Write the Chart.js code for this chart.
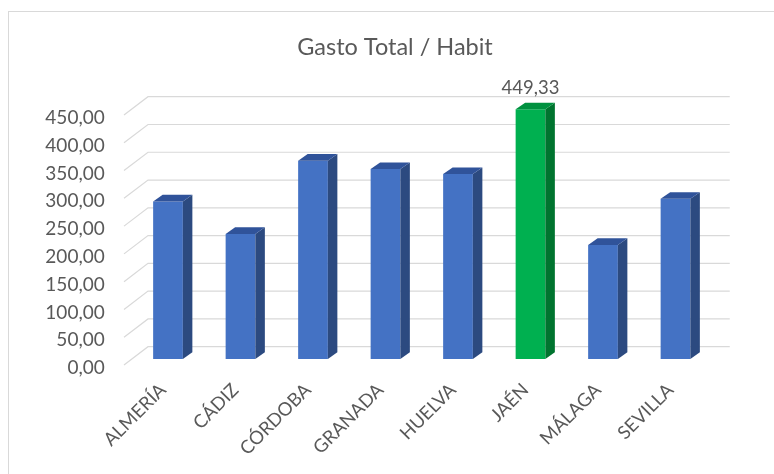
<!DOCTYPE html>
<html>
<head>
<meta charset="utf-8">
<script src="https://cdn.jsdelivr.net/npm/chart.js@4.4.1/dist/chart.umd.min.js"></script>
<style>
    html, body { margin: 0; padding: 0; background: #fff; }
</style>
</head>
<body>
<canvas id="gastoChart" width="774" height="474"></canvas>
<script>
const provincias = ['ALMERÍA', 'CÁDIZ', 'CÓRDOBA', 'GRANADA', 'HUELVA', 'JAÉN', 'MÁLAGA', 'SEVILLA'];
const gastoHabitante = [283.4, 225.2, 357.0, 341.8, 332.8, 449.33, 205.4, 288.3];
const yTicks = [0, 50, 100, 150, 200, 250, 300, 350, 400, 450];
const destacada = 'JAÉN';
const titulo = 'Gasto Total / Habit';

const textColor = '#595959';
const gridColor = '#d9d9d9';
const fontFamily = 'Lato, "Open Sans", sans-serif';

// front / side / top colours of each bar
const frontColors = provincias.map(p => p === destacada ? '#00b050' : '#4472c4');
const sideColors = provincias.map(p => p === destacada ? '#00742f' : '#2c4a80');
const topColors = provincias.map(p => p === destacada ? '#00913f' : '#30539a');

const fmt = v => v.toFixed(2).replace('.', ',');

// bar depth and wall offsets (pixels)
const depth = { dx: 9.5, dy: -6.7 };
const wall = { frontDx: -7.75, frontDy: 6, backDx: 16.25, backDy: -12.3, rightDx: 18 };

const frame3d = {
    id: 'frame3d',
    beforeDraw(chart) {
        const ctx = chart.ctx;
        ctx.save();
        ctx.strokeStyle = gridColor;
        ctx.lineWidth = 1;
        ctx.strokeRect(8.5, 11.5, 800, 500);
        ctx.restore();
    },
    beforeDatasetsDraw(chart) {
        const ctx = chart.ctx;
        const y = chart.scales.y;
        const area = chart.chartArea;
        ctx.save();
        ctx.strokeStyle = gridColor;
        ctx.lineWidth = 1.2;
        yTicks.forEach(v => {
            const py = y.getPixelForValue(v);
            ctx.beginPath();
            ctx.moveTo(area.left + wall.frontDx, py + wall.frontDy);
            ctx.lineTo(area.left + wall.backDx, py + wall.backDy);
            ctx.lineTo(area.right + wall.rightDx, py + wall.backDy);
            ctx.stroke();
        });
        ctx.restore();
    },
    afterDatasetsDraw(chart) {
        const ctx = chart.ctx;
        const meta = chart.getDatasetMeta(0);
        ctx.save();
        meta.data.forEach((bar, i) => {
            const half = bar.width / 2;
            const l = bar.x - half, r = bar.x + half;
            // side face
            ctx.fillStyle = sideColors[i];
            ctx.beginPath();
            ctx.moveTo(r, bar.y);
            ctx.lineTo(r + depth.dx, bar.y + depth.dy);
            ctx.lineTo(r + depth.dx, bar.base + depth.dy);
            ctx.lineTo(r, bar.base);
            ctx.closePath();
            ctx.fill();
            // top face
            ctx.fillStyle = topColors[i];
            ctx.beginPath();
            ctx.moveTo(l, bar.y);
            ctx.lineTo(l + depth.dx, bar.y + depth.dy);
            ctx.lineTo(r + depth.dx, bar.y + depth.dy);
            ctx.lineTo(r, bar.y);
            ctx.closePath();
            ctx.fill();

            if (provincias[i] === destacada) {
                ctx.fillStyle = textColor;
                ctx.font = '18.5px ' + fontFamily;
                ctx.textAlign = 'center';
                ctx.textBaseline = 'middle';
                ctx.fillText(fmt(gastoHabitante[i]), bar.x, bar.y - 21.5);
            }
        });
        ctx.restore();
    },
    afterDraw(chart) {
        const ctx = chart.ctx;
        ctx.save();
        ctx.fillStyle = textColor;
        ctx.font = '23.5px ' + fontFamily;
        ctx.textAlign = 'center';
        ctx.textBaseline = 'middle';
        ctx.fillText(titulo, 395, 47);
        ctx.restore();
    }
};

new Chart(document.getElementById('gastoChart'), {
    type: 'bar',
    data: {
        labels: provincias,
        datasets: [{
            label: titulo,
            data: gastoHabitante,
            backgroundColor: frontColors,
            borderWidth: 0,
            barPercentage: 0.41,
            categoryPercentage: 1
        }]
    },
    options: {
        responsive: false,
        animation: false,
        layout: { padding: { left: 16, top: 109, right: 62.25, bottom: 0 } },
        plugins: {
            legend: { display: false },
            title: { display: false },
            tooltip: { enabled: false }
        },
        scales: {
            x: {
                grid: { display: false },
                border: { display: false },
                ticks: {
                    color: textColor,
                    font: { family: fontFamily, size: 18.5 },
                    minRotation: 45,
                    maxRotation: 45,
                    autoSkip: false,
                    labelOffset: -5,
                    padding: 12
                },
                afterFit(scale) { scale.height = 115; }
            },
            y: {
                min: 0,
                max: 450,
                grid: { display: false },
                border: { display: false },
                ticks: {
                    stepSize: 50,
                    color: textColor,
                    font: { family: fontFamily, size: 19 },
                    padding: 19,
                    labelOffset: 9,
                    callback: v => fmt(v)
                },
                afterFit(scale) { scale.width = 115.75; }
            }
        }
    },
    plugins: [frame3d]
});
</script>
</body>
</html>
